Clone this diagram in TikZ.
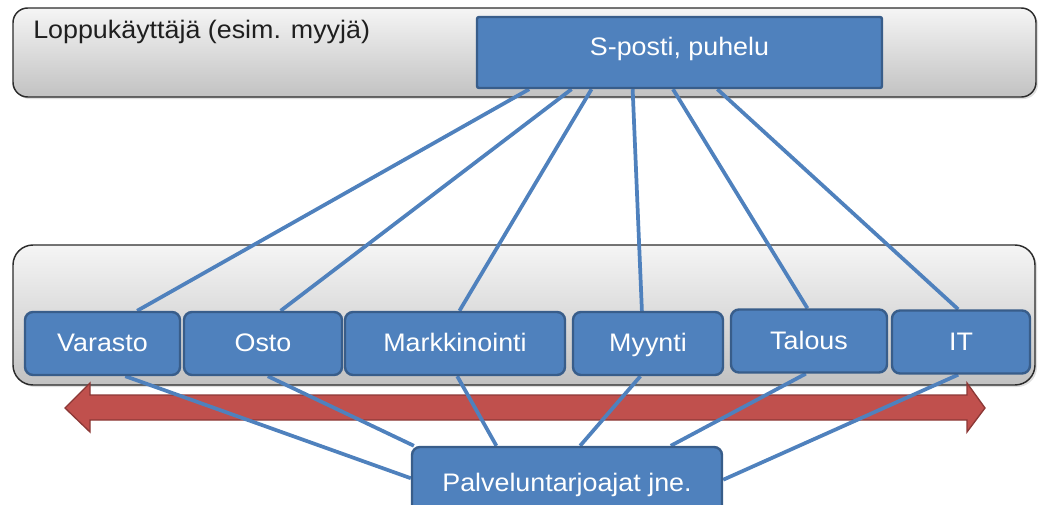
\documentclass[tikz,border=0pt]{standalone}
\usepackage{fontspec}
\setmainfont{Liberation Sans}[FakeStretch=1.06]
\usetikzlibrary{calc,shadows}
\definecolor{boxblue}{HTML}{4F81BD}
\definecolor{boxedge}{HTML}{385D8A}
\definecolor{arrred}{HTML}{C0504D}
\definecolor{arredge}{HTML}{8C3836}
\definecolor{barline}{HTML}{2B2B2B}
\pgfdeclarelayer{bg}
\pgfdeclarelayer{lines}
\pgfsetlayers{bg,lines,main}
\tikzset{
  bar/.style={draw=barline, line width=1.1pt, top color=white!96!black, bottom color=white!76!black,
    drop shadow={opacity=0.25, shadow xshift=1.5pt, shadow yshift=-1.5pt}},
  lbl/.style={font=\fontsize{19pt}{22pt}\selectfont},
  dept/.style={lbl, draw=boxedge, line width=1.8pt, fill=boxblue, rounded corners=6pt, text=white,
    text height=13.4pt, text depth=1pt, inner sep=0pt, minimum height=47.25pt},
  link/.style={draw=boxblue, line width=2.8pt},
}
\begin{document}
\begin{tikzpicture}[x=0.75pt,y=-0.75pt]
\useasboundingbox (0,0) rectangle (1039,504);
\begin{pgfonlayer}{bg}
  \draw[bar, rounded corners=11pt] (13,8) rectangle (1036,97);
  \draw[bar, rounded corners=15pt] (13,245) rectangle (1035,385);
  \draw[fill=arrred, draw=arredge, line width=1pt]
    (65,408) -- (90,383) -- (90,395) -- (967,395) -- (967,383) -- (985,408)
    -- (967,432) -- (967,420) -- (90,420) -- (90,432) -- cycle;
\end{pgfonlayer}

\node[lbl, anchor=base west, text=black!88, inner sep=0pt] (title) at (33,38.5) {Loppukäyttäjä (esim. myyjä)};

\node[dept, rounded corners=1.5pt, minimum width=303.75pt, minimum height=53.25pt, text depth=9.65pt] (sp) at (679.5,52.5) {S-posti, puhelu};

\node[dept, minimum width=116.25pt] (var) at (102.5,343.5) {Varasto};
\node[dept, minimum width=118.5pt] (osto) at (263,343.5) {Osto};
\node[dept, minimum width=165pt] (mark) at (455,343.5) {Markkinointi};
\node[dept, minimum width=112.5pt] (myy) at (648,343.5) {Myynti};
\node[dept, minimum width=117pt] (tal) at (809,341) {Talous};
\node[dept, minimum width=103.5pt] (it) at (961,342) {IT};

\node[dept, minimum width=232.5pt, minimum height=54.75pt] (pal) at (567,483.5) {Palveluntarjoajat jne.};

\begin{pgfonlayer}{lines}
  \draw[link] ($(sp.south west)!0.131!(sp.south east)$) -- ($(var.north west)!0.72!(var.north east)$);
  \draw[link] ($(sp.south west)!0.235!(sp.south east)$) -- ($(osto.north west)!0.61!(osto.north east)$);
  \draw[link] ($(sp.south west)!0.284!(sp.south east)$) -- ($(mark.north west)!0.52!(mark.north east)$);
  \draw[link] ($(sp.south west)!0.385!(sp.south east)$) -- ($(myy.north west)!0.46!(myy.north east)$);
  \draw[link] ($(sp.south west)!0.484!(sp.south east)$) -- ($(tal.north west)!0.49!(tal.north east)$);
  \draw[link] ($(sp.south west)!0.593!(sp.south east)$) -- ($(it.north west)!0.48!(it.north east)$);

  \draw[link] ($(var.south west)!0.645!(var.south east)$) -- ($(pal.north west)!0.43!(pal.south west)$);
  \draw[link] ($(osto.south west)!0.53!(osto.south east)$) -- ($(pal.north west)!0.01!(pal.north east)$);
  \draw[link] ($(mark.south west)!0.51!(mark.south east)$) -- ($(pal.north west)!0.274!(pal.north east)$);
  \draw[link] ($(myy.south west)!0.45!(myy.south east)$) -- ($(pal.north west)!0.542!(pal.north east)$);
  \draw[link] ($(tal.south west)!0.48!(tal.south east)$) -- ($(pal.north west)!0.832!(pal.north east)$);
  \draw[link] ($(it.south west)!0.48!(it.south east)$) -- ($(pal.north east)!0.45!(pal.south east)$);
\end{pgfonlayer}
\end{tikzpicture}
\end{document}
